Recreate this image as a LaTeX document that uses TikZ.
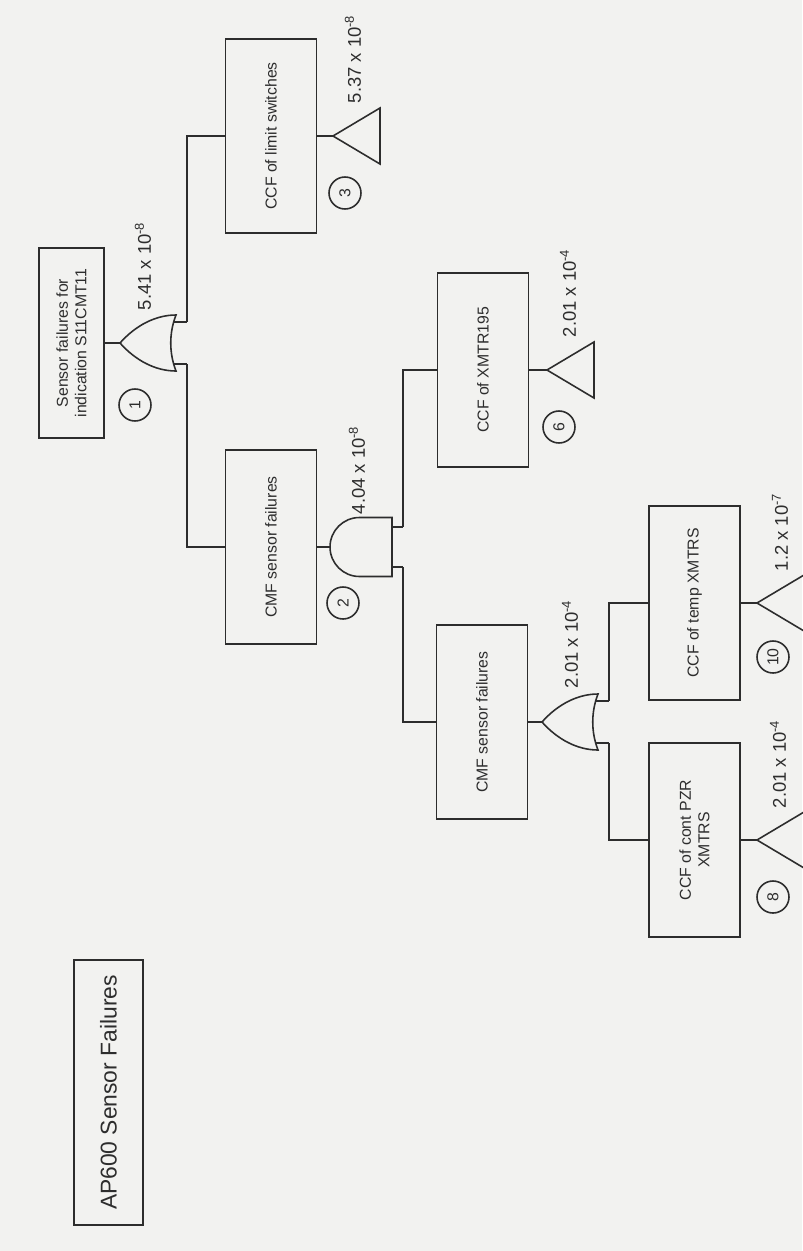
\documentclass[tikz,border=0pt]{standalone}
\usepackage{fontspec}
\setmainfont{Liberation Sans}
\definecolor{paper}{RGB}{242,242,240}
\definecolor{ink}{RGB}{45,45,45}
\tikzset{
  orgate/.pic={
    \draw (0,0) .. controls (16,-18) and (36,-28) .. (56,-28)
      .. controls (49,-10) and (49,10) .. (56,28)
      .. controls (36,28) and (16,18) .. (0,0) -- cycle;
    \draw (53,-21) -- (67,-21) coordinate (-in1);
    \draw (53,21) -- (67,21) coordinate (-in2);
    \coordinate (-out) at (0,0);
  },
  andgate/.pic={
    \draw (62,-29.5) -- (29.5,-29.5) arc[start angle=270, end angle=90, radius=29.5]
      -- (62,29.5) -- cycle;
    \draw (62,-20) -- (73,-20) coordinate (-in1);
    \draw (62,20) -- (73,20) coordinate (-in2);
    \coordinate (-out) at (0,0);
  },
  basic/.pic={
    \draw (0,0) -- (47,-28) -- (47,28) -- cycle;
    \coordinate (-in) at (0,0);
  }
}
\begin{document}
\begin{tikzpicture}[x=0.02cm, y=-0.02cm, color=ink, line width=0.9pt]
  \tikzstyle{event} = [rectangle, draw, line width=1.1pt, rotate=90, align=center, inner sep=0pt, minimum width=3.88cm, minimum height=1.82cm, font=\fontsize{9}{10.5}\selectfont]
  \tikzstyle{topevent} = [event, minimum width=3.8cm, minimum height=1.3cm]
  \tikzstyle{titlebox} = [rectangle, draw, line width=1.6pt, rotate=90, inner sep=0pt, minimum width=5.3cm, minimum height=1.38cm, font=\fontsize{13}{15}\selectfont]
  \tikzstyle{prob} = [rotate=90, anchor=west, inner sep=0pt, font=\fontsize{10.5}{12}\selectfont]
  \tikzstyle{num} = [circle, draw, rotate=90, inner sep=0pt, minimum size=0.64cm, font=\fontsize{9}{10}\selectfont]

  \fill[paper] (0,0) rectangle (802,1251);
  \useasboundingbox (0,0) rectangle (802,1251);

  \node [titlebox] (title) at (108.5,1092.5) {AP600 Sensor Failures};

  \node [topevent] (top) at (71.5,343) {Sensor failures for\\indication S11CMT11};
  \node [event] (limit) at (271,136) {CCF of limit switches};
  \node [event] (cmfa) at (271,547) {CMF sensor failures};
  \node [event] (xmtr) at (483,370) {CCF of XMTR195};
  \node [event] (cmfb) at (482,722) {CMF sensor failures};
  \node [event] (temp) at (694.5,603) {CCF of temp XMTRS};
  \node [event] (pzr) at (694.5,840) {CCF of cont PZR\\XMTRS};

  \pic (g1) at (120,343) {orgate};
  \pic (g2) at (330,547) {andgate};
  \pic (g3) at (542,722) {orgate};
  \pic (t3) at (333,136) {basic};
  \pic (t6) at (547,370) {basic};
  \pic (t10) at (757,603) {basic};
  \pic (t8) at (757,840) {basic};

  \draw (top.south) -- (g1-out);
  \draw (g1-in1) |- (limit.north);
  \draw (g1-in2) |- (cmfa.north);
  \draw (cmfa.south) -- (g2-out);
  \draw (g2-in1) |- (xmtr.north);
  \draw (g2-in2) |- (cmfb.north);
  \draw (cmfb.south) -- (g3-out);
  \draw (g3-in1) |- (temp.north);
  \draw (g3-in2) |- (pzr.north);
  \draw (limit.south) -- (t3-in);
  \draw (xmtr.south) -- (t6-in);
  \draw (temp.south) -- (t10-in);
  \draw (pzr.south) -- (t8-in);

  \node [prob] (p1) at (143,311) {5.41 x 10\textsuperscript{-8}};
  \node [prob] (p2) at (357,515) {4.04 x 10\textsuperscript{-8}};
  \node [prob] (p3) at (570,689) {2.01 x 10\textsuperscript{-4}};
  \node [prob] (p4) at (353,104) {5.37 x 10\textsuperscript{-8}};
  \node [prob] (p5) at (568,338) {2.01 x 10\textsuperscript{-4}};
  \node [prob] (p6) at (780,572) {1.2 x 10\textsuperscript{-7}};
  \node [prob] (p7) at (778,809) {2.01 x 10\textsuperscript{-4}};

  \node [num] (n1) at (135,405) {1};
  \node [num] (n2) at (343,603) {2};
  \node [num] (n3) at (345,193) {3};
  \node [num] (n6) at (559,427) {6};
  \node [num] (n10) at (773,657) {10};
  \node [num] (n8) at (773,897) {8};
\end{tikzpicture}
\end{document}
